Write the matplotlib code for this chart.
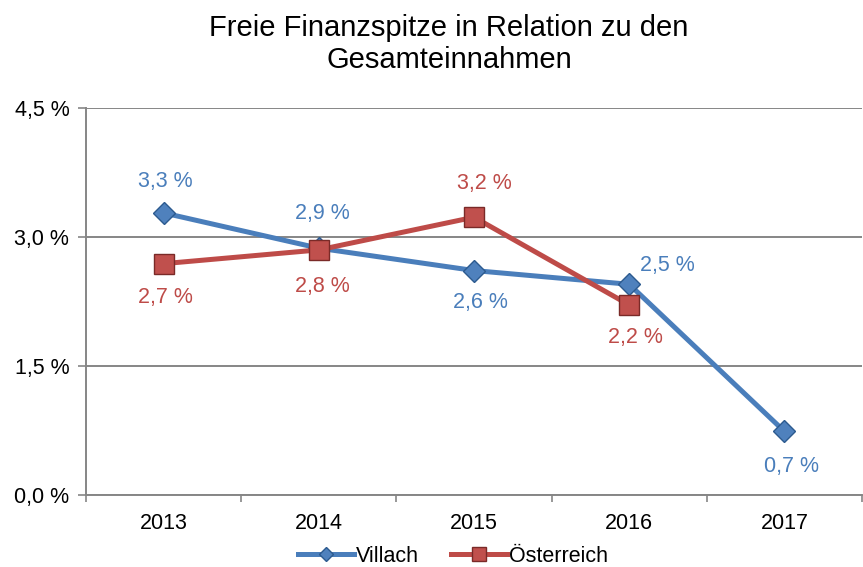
import numpy as np
import matplotlib.pyplot as plt
from matplotlib.ticker import FuncFormatter

plt.rcParams['font.family'] = ['Liberation Sans', 'DejaVu Sans']

years = ['2013', '2014', '2015', '2016', '2017']
villach = [3.28, 2.87, 2.61, 2.45, 0.74]
oesterreich = [2.69, 2.85, 3.23, 2.21]
villach_labels = ['3,3 %', '2,9 %', '2,6 %', '2,5 %', '0,7 %']
oesterreich_labels = ['2,7 %', '2,8 %', '3,2 %', '2,2 %']

blue = '#4A7EBB'
red = '#BE4B48'
grey = '#868686'

fig = plt.figure(figsize=(8.63, 5.67), dpi=100)
ax = fig.add_axes([86 / 863, 1 - 495 / 567, 776 / 863, 387 / 567])

x_v = np.arange(len(villach))
x_o = np.arange(len(oesterreich))

ax.plot(x_v, villach, color=blue, lw=3.6, marker='D', markersize=11,
        markerfacecolor='#4F81BD', markeredgecolor='#2C5A8F', markeredgewidth=1,
        label='Villach', zorder=3)
ax.plot(x_o, oesterreich, color=red, lw=3.6, marker='s', markersize=15,
        markerfacecolor='#C0504D', markeredgecolor='#7A2A28', markeredgewidth=1,
        label='Österreich', zorder=4)

# label offsets in pixels
v_off = [(2, 31), (4, 35), (6, -32), (38, 19), (7, -35)]
o_off = [(2, -34), (4, -37), (10, 34), (6, -33)]
for i, (val, txt) in enumerate(zip(villach, villach_labels)):
    ax.annotate(txt, (x_v[i], val), xytext=v_off[i], textcoords='offset pixels',
                ha='center', va='center', color=blue, fontsize=15.5)
for i, (val, txt) in enumerate(zip(oesterreich, oesterreich_labels)):
    ax.annotate(txt, (x_o[i], val), xytext=o_off[i], textcoords='offset pixels',
                ha='center', va='center', color=red, fontsize=15.5)

ax.set_xlim(-0.5, 4.5)
ax.set_ylim(0, 4.5)
ax.set_yticks([0, 1.5, 3.0, 4.5])
ax.yaxis.set_major_formatter(FuncFormatter(lambda v, p: f'{v:.1f} %'.replace('.', ',')))
ax.set_xticks(x_v)
ax.set_xticklabels(years)
ax.set_xticks(np.arange(-0.5, 5, 1), minor=True)
ax.tick_params(axis='x', which='major', length=0, labelsize=15.5, pad=13)
ax.tick_params(axis='x', which='minor', length=5, color=grey, width=1.2)
ax.tick_params(axis='y', length=6, color=grey, width=1.2, labelsize=15.5, pad=6)

ax.grid(axis='y', color=grey, lw=1.4)
ax.set_axisbelow(True)
for s in ['top', 'right']:
    ax.spines[s].set_visible(False)
for s in ['left', 'bottom']:
    ax.spines[s].set_color(grey)
    ax.spines[s].set_linewidth(1.4)

fig.text(449 / 863, 1 - 44 / 567, 'Freie Finanzspitze in Relation zu den\nGesamteinnahmen',
         ha='center', va='center', fontsize=21, linespacing=1.2)

fig.legend(loc='center', bbox_to_anchor=(453 / 863, 1 - 556 / 567), ncol=2, frameon=False,
           fontsize=15.5, handlelength=2.6, handletextpad=0.1, columnspacing=1.5,
           markerscale=0.65)

fig.savefig('out.png', dpi=100)
